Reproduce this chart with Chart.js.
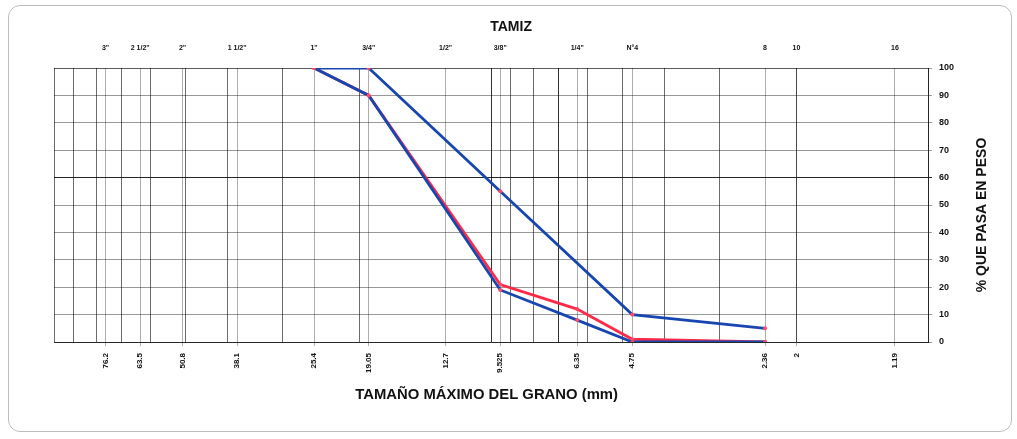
<!DOCTYPE html>
<html>
<head>
<meta charset="utf-8">
<script src="https://cdn.jsdelivr.net/npm/chart.js@4.4.1/dist/chart.umd.min.js"></script>
<style>
  html, body { margin: 0; padding: 0; background: #fff; }
  #wrap { position: relative; width: 1017px; height: 439px; }
  #wrap canvas { position: absolute; left: 0; top: 0; }
  #frame { position: absolute; left: 8px; top: 5px; width: 1002px; height: 425px;
           border: 1px solid #bdbdbd; border-radius: 12px; pointer-events: none; }
</style>
</head>
<body>
<div id="wrap">
  <canvas id="curve" width="1017" height="439"></canvas>
  <div id="frame"></div>
</div>
<script>
// Sieve series: opening in mm and its name
const sieveSizes = [76.2, 63.5, 50.8, 38.1, 25.4, 19.05, 12.7, 9.525, 6.35, 4.75, 2.36, 2, 1.19];
const sieveNames = ['3"', '2 1/2"', '2"', '1 1/2"', '1"', '3/4"', '1/2"', '3/8"', '1/4"', 'N°4', '8', '10', '16'];
const sieveLabels = ['76.2', '63.5', '50.8', '38.1', '25.4', '19.05', '12.7', '9.525', '6.35', '4.75', '2.36', '2', '1.19'];

// Log-paper grid lines (mm)
const logGridValues = [100, 90, 80, 70, 60, 50, 40, 30, 20, 10, 9, 8, 7, 6, 5, 4, 3, 2, 1];
const percentTicks = [0, 10, 20, 30, 40, 50, 60, 70, 80, 90, 100];

// Gradation band limits (% passing)
const upperSizes = [25.4, 19.05, 9.525, 4.75, 2.36];
const upperPassing = [100, 100, 55, 10, 5];
const lowerSizes = [25.4, 19.05, 9.525, 6.35, 4.75, 2.36];
const lowerPassing = [100, 90, 19, 8, 0, 0];

// Tested sample (% passing)
const sampleSizes = [25.4, 19.05, 9.525, 6.35, 4.75, 2.36];
const samplePassing = [100, 90, 21, 12, 1, 0];

const toPoints = (xs, ys) => xs.map((x, i) => ({ x: x, y: ys[i] }));

const BLUE = '#1746b0';
const RED = '#ff2a48';
const TXT = '#111';
const FONT = 'Liberation Sans, Arial, sans-serif';

const titlesPlugin = {
  id: 'titles',
  afterDraw(chart) {
    const { ctx, chartArea: a } = chart;
    ctx.save();
    ctx.fillStyle = TXT;
    ctx.textAlign = 'center';
    ctx.textBaseline = 'middle';

    ctx.font = 'bold 14px ' + FONT;
    ctx.fillText('TAMIZ', a.left + (a.right - a.left) * 0.523, a.top - 41);

    ctx.save();
    ctx.translate(a.left + (a.right - a.left) * 0.495, a.bottom + 53);
    ctx.scale(1.06, 1);
    ctx.font = 'bold 14px ' + FONT;
    ctx.fillText('TAMAÑO MÁXIMO DEL GRANO (mm)', 0, 0);
    ctx.restore();

    ctx.save();
    ctx.translate(a.right + 54, (a.top + a.bottom) / 2 + 10);
    ctx.rotate(-Math.PI / 2);
    ctx.font = 'bold 14px ' + FONT;
    ctx.fillText('% QUE PASA EN PESO', 0, 0);
    ctx.restore();

    ctx.restore();
  }
};

const lineStyle = (color) => ({
  showLine: true,
  borderColor: color,
  borderWidth: 2.8,
  pointRadius: 2,
  pointBackgroundColor: '#ff4a6a',
  pointBorderWidth: 0,
  tension: 0,
  xAxisID: 'x',
  yAxisID: 'y'
});

new Chart(document.getElementById('curve'), {
  type: 'scatter',
  data: {
    datasets: [
      Object.assign({ label: 'Muestra', data: toPoints(sampleSizes, samplePassing), order: 3 }, lineStyle(RED)),
      Object.assign({ label: 'Límite inferior', data: toPoints(lowerSizes, lowerPassing), order: 1 }, lineStyle(BLUE)),
      Object.assign({ label: 'Límite superior', data: toPoints(upperSizes, upperPassing), order: 2 }, lineStyle(BLUE))
    ]
  },
  options: {
    responsive: false,
    animation: false,
    devicePixelRatio: 1,
    layout: { padding: { left: 54, right: 0, top: 0, bottom: 37 } },
    plugins: { legend: { display: false }, tooltip: { enabled: false } },
    scales: {
      x: {
        type: 'logarithmic', position: 'bottom', reverse: true, min: 1, max: 100,
        afterBuildTicks: s => { s.ticks = sieveSizes.map(v => ({ value: v })); },
        afterFit: s => { s.height = 60; },
        ticks: {
          autoSkip: false, minRotation: 90, maxRotation: 90, padding: 7, color: TXT,
          font: { family: FONT, size: 8, weight: 'bold' },
          callback: (v, i) => sieveLabels[i]
        },
        grid: { color: 'rgba(0,0,0,0.32)', lineWidth: 1, tickLength: 4 },
        border: { display: true, color: 'rgba(0,0,0,0.75)', width: 1 }
      },
      xg: {
        type: 'logarithmic', position: 'bottom', reverse: true, min: 1, max: 100,
        afterBuildTicks: s => { s.ticks = logGridValues.map(v => ({ value: v })); },
        afterFit: s => { s.height = 0; },
        ticks: { display: false },
        grid: {
          drawTicks: false, lineWidth: 1,
          color: c => (c.tick && (c.tick.value === 7 || c.tick.value === 10)) ? 'rgba(0,0,0,0.8)' : 'rgba(0,0,0,0.58)'
        },
        border: { display: false }
      },
      x2: {
        type: 'logarithmic', position: 'top', reverse: true, min: 1, max: 100,
        afterBuildTicks: s => { s.ticks = sieveSizes.map(v => ({ value: v })); },
        afterFit: s => { s.height = 68; },
        ticks: {
          autoSkip: false, minRotation: 0, maxRotation: 0, padding: 16, color: TXT,
          font: { family: FONT, size: 7, weight: 'bold' },
          callback: (v, i) => sieveNames[i]
        },
        grid: { drawOnChartArea: false, drawTicks: false },
        border: { display: true, color: 'rgba(0,0,0,0.4)', width: 1 }
      },
      y: {
        position: 'right', min: 0, max: 100,
        afterBuildTicks: s => { s.ticks = percentTicks.map(v => ({ value: v })); },
        afterFit: s => { s.width = 89; },
        ticks: { padding: 7, color: TXT, font: { family: FONT, size: 9, weight: 'bold' } },
        grid: {
          tickLength: 4, lineWidth: 1,
          color: c => (c.tick && c.tick.value === 60) ? 'rgba(0,0,0,0.85)' : 'rgba(0,0,0,0.4)'
        },
        border: { display: true, color: 'rgba(0,0,0,0.65)', width: 1 }
      }
    }
  },
  plugins: [titlesPlugin]
});
</script>
</body>
</html>
